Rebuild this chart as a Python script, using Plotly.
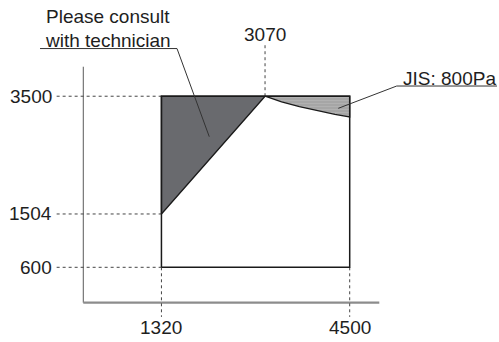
import plotly.graph_objects as go

# Operating range values (airflow on x, pressure on y)
x_min, x_knee, x_max = 1320, 3070, 4500
y_low, y_mid, y_top = 600, 1504, 3500

# Boundary of the region that needs a technician
consult_x = [1320, 1320, 3070]
consult_y = [1504, 3500, 3500]

# JIS 800Pa limit curve
jis_x = [3070, 3350, 3650, 3950, 4250, 4500]
jis_y = [3500, 3405, 3322, 3252, 3193, 3150]

# Axis extents
axis_x_end, axis_y_end = 5000, 4000

x_ticks = [1320, 3070, 4500]
y_ticks = [3500, 1504, 600]

FONT = "Liberation Sans, Arial, sans-serif"
TXT = "#1e1e1e"
LINE = "#1a1a1a"
GUIDE = "#444444"

fig = go.Figure()

# Axes (drawn as lines)
fig.add_trace(go.Scatter(x=[0, 0], y=[0, axis_y_end], mode="lines",
                         line=dict(color="#5a5a5a", width=1), hoverinfo="skip"))
fig.add_trace(go.Scatter(x=[0, axis_x_end], y=[0, 0], mode="lines",
                         line=dict(color="#8c8c8c", width=2.2), hoverinfo="skip"))

# Dotted guide lines to the tick labels
guide_left = -450
for yv in y_ticks:
    fig.add_trace(go.Scatter(x=[guide_left, x_min], y=[yv, yv], mode="lines",
                             line=dict(color=GUIDE, width=1, dash="dot"), hoverinfo="skip"))
for xv in [x_min, x_max]:
    fig.add_trace(go.Scatter(x=[xv, xv], y=[y_low, -240], mode="lines",
                             line=dict(color=GUIDE, width=1, dash="dot"), hoverinfo="skip"))
fig.add_trace(go.Scatter(x=[x_knee, x_knee], y=[y_top, 4400], mode="lines",
                         line=dict(color=GUIDE, width=1, dash="dot"), hoverinfo="skip"))

# Hatched JIS region
fig.add_trace(go.Scatter(
    x=jis_x + [x_max, x_knee], y=jis_y + [y_top, y_top],
    mode="lines", fill="toself",
    fillcolor="#a8a8a8",
    fillpattern=dict(shape="-", bgcolor="#a6a6a6", fgcolor="#bebebe", size=3, solidity=0.3),
    line=dict(color=LINE, width=1.3), hoverinfo="skip"))

# Dark "consult" region
fig.add_trace(go.Scatter(
    x=consult_x + [consult_x[0]], y=consult_y + [consult_y[0]],
    mode="lines", fill="toself", fillcolor="#696a6e",
    line=dict(color=LINE, width=1.3), hoverinfo="skip"))

# Outer operating box
fig.add_trace(go.Scatter(
    x=[x_min, x_max, x_max, x_min, x_min], y=[y_low, y_low, y_top, y_top, y_low],
    mode="lines", line=dict(color=LINE, width=1.5), hoverinfo="skip"))

# Leader lines with underlines
fig.add_trace(go.Scatter(x=[-731, 1583, 2128], y=[4308, 4308, 2814], mode="lines",
                         line=dict(color="#333333", width=1), hoverinfo="skip"))
fig.add_trace(go.Scatter(x=[6988, 5294, 4307], y=[3673, 3673, 3295], mode="lines",
                         line=dict(color="#333333", width=1), hoverinfo="skip"))

annotations = []
for yv in y_ticks:
    annotations.append(dict(x=-500, y=yv, text=str(yv), xanchor="right", yanchor="middle",
                            showarrow=False, font=dict(size=19, color=TXT, family=FONT)))
for xv in [x_min, x_max]:
    annotations.append(dict(x=xv, y=-420, text=str(xv), xanchor="center", yanchor="middle",
                            showarrow=False, font=dict(size=19, color=TXT, family=FONT)))
annotations.append(dict(x=x_knee, y=4546, text=str(x_knee), xanchor="center", yanchor="middle",
                        showarrow=False, font=dict(size=19, color=TXT, family=FONT)))
annotations.append(dict(x=417, y=4847, text="Please consult", xanchor="center", yanchor="middle",
                        showarrow=False, font=dict(size=19, color=TXT, family=FONT)))
annotations.append(dict(x=409, y=4453, text="with technician", xanchor="center", yanchor="middle",
                        showarrow=False, font=dict(size=19, color=TXT, family=FONT)))
annotations.append(dict(x=6182, y=3808, text="JIS: 800Pa", xanchor="center", yanchor="middle",
                        showarrow=False, font=dict(size=19, color=TXT, family=FONT)))

fig.update_layout(
    width=499, height=342,
    margin=dict(l=0, r=0, t=0, b=0),
    paper_bgcolor="white", plot_bgcolor="white",
    showlegend=False,
    xaxis=dict(range=[-1407, 7022], visible=False, fixedrange=True),
    yaxis=dict(range=[-666, 5131], visible=False, fixedrange=True),
    annotations=annotations,
)

fig.write_html("out.html", config={"displayModeBar": False})
